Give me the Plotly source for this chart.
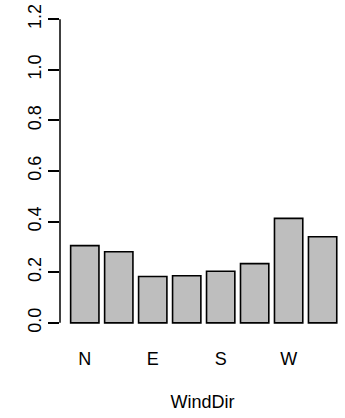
import plotly.graph_objects as go

# Wind directions and mean values per direction
directions = ["N", "NE", "E", "SE", "S", "SW", "W", "NW"]
values = [0.305, 0.281, 0.183, 0.186, 0.204, 0.234, 0.413, 0.340]
y_ticks = [0.0, 0.2, 0.4, 0.6, 0.8, 1.0, 1.2]

# barplot-style layout: width 1, space 0.2 between bars
bar_width = 1.0
space = 0.2
centers = [space + bar_width / 2 + i * (bar_width + space) for i in range(len(directions))]

# only every second name fits under the bars
label_pos = centers[::2]
label_txt = directions[::2]

W, H = 345, 418
left_px, bottom_px, top_px = 60.4, 82.8, 6.8
px_per_unit = 28.27
x0 = space - 0.04 * (centers[-1] + 0.5 - space)
x1 = x0 + (W - left_px) / px_per_unit

fig = go.Figure(
    go.Bar(
        x=centers,
        y=values,
        width=bar_width,
        marker=dict(color="#bebebe", line=dict(color="black", width=1.6)),
        hoverinfo="skip",
    )
)

font = dict(family="Liberation Sans, Arial, sans-serif", size=18, color="black")

fig.update_layout(
    width=W,
    height=H,
    margin=dict(l=left_px, r=0, t=top_px, b=bottom_px),
    paper_bgcolor="white",
    plot_bgcolor="white",
    showlegend=False,
    font=font,
    xaxis=dict(
        range=[x0, x1],
        tickvals=label_pos,
        ticktext=label_txt,
        ticks="outside",
        ticklen=7,
        tickcolor="rgba(0,0,0,0)",
        showgrid=False,
        zeroline=False,
        showline=False,
        tickfont=font,
        title=dict(text="WindDir", font=font, standoff=27),
    ),
    yaxis=dict(
        range=[-0.048, 1.248],
        tickvals=y_ticks,
        ticktext=[f"{v:.1f}" for v in y_ticks],
        tickangle=-90,
        ticks="outside",
        ticklen=11,
        tickwidth=1.5,
        tickcolor="black",
        showgrid=False,
        zeroline=False,
        showline=False,
        tickfont=font,
        ticklabelstandoff=0,
    ),
    shapes=[
        dict(
            type="line",
            xref="paper",
            yref="y",
            x0=0,
            x1=0,
            y0=y_ticks[0],
            y1=y_ticks[-1],
            line=dict(color="black", width=1.5),
        )
    ],
)

fig.write_html("out.html")
